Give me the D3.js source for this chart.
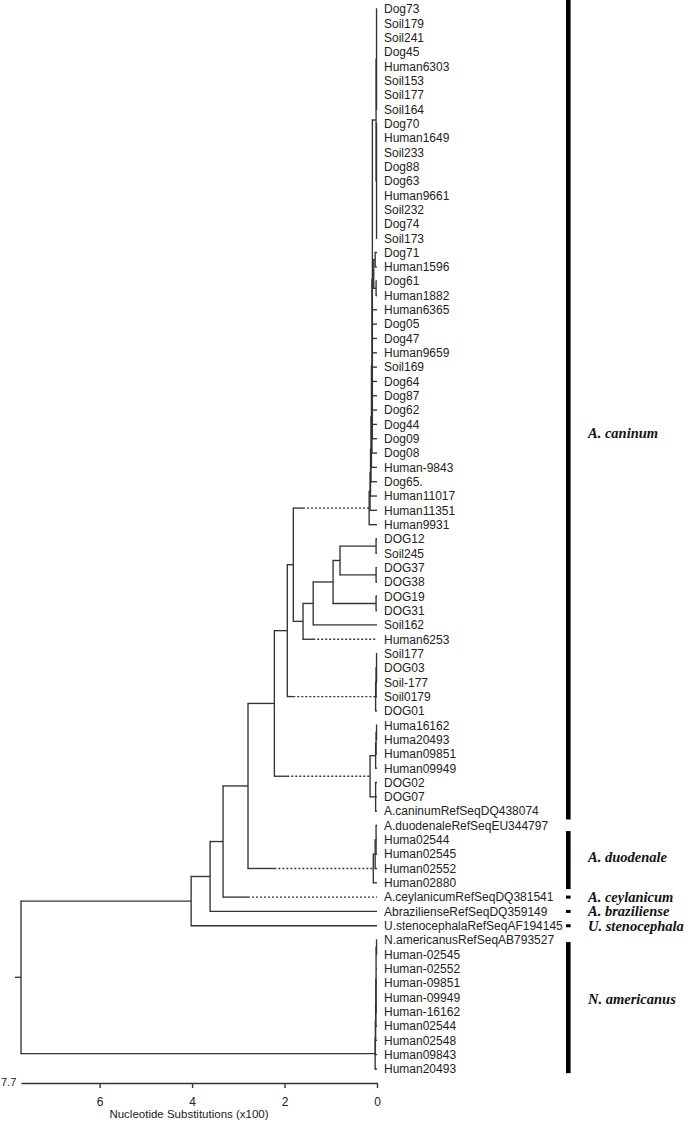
<!DOCTYPE html>
<html>
<head>
<meta charset="utf-8">
<script src="https://cdn.jsdelivr.net/npm/d3@7"></script>
<style>
  html, body { margin: 0; padding: 0; background: #fff; }
  svg { display: block; }
</style>
</head>
<body>
<svg id="chart" width="690" height="1122"></svg>
<script>
// ---------- DATA ----------
// leaf labels, top to bottom
const leaves = [
  "Dog73","Soil179","Soil241","Dog45","Human6303","Soil153","Soil177","Soil164",
  "Dog70","Human1649","Soil233","Dog88","Dog63","Human9661","Soil232","Dog74","Soil173",
  "Dog71","Human1596","Dog61","Human1882","Human6365","Dog05","Dog47","Human9659","Soil169",
  "Dog64","Dog87","Dog62","Dog44","Dog09","Dog08","Human-9843","Dog65.","Human11017",
  "Human11351","Human9931","DOG12","Soil245","DOG37","DOG38","DOG19","DOG31","Soil162",
  "Human6253","Soil177","DOG03","Soil-177","Soil0179","DOG01","Huma16162","Huma20493",
  "Human09851","Human09949","DOG02","DOG07","A.caninumRefSeqDQ438074",
  "A.duodenaleRefSeqEU344797","Huma02544","Human02545","Human02552","Human02880",
  "A.ceylanicumRefSeqDQ381541","AbrazilienseRefSeqDQ359149","U.stenocephalaRefSeqAF194145",
  "N.americanusRefSeqAB793527","Human-02545","Human-02552","Human-09851","Human-09949",
  "Human-16162","Human02544","Human02548","Human09843","Human20493"
];

// internal nodes: [id, height (x100 substitutions), children (leaf index or node id)]
const nodes = [
  ["A1", 0.010, [0,1,2,3,4,5,6,7]],
  ["A2", 0.010, [8,9,10,11,12,13,14,15,16]],
  ["A12", 0.020, ["A1","A2"]],
  ["B1a", 0.040, [17,18]],
  ["B1b", 0.020, [19,20]],
  ["B1", 0.070, ["B1a","B1b"]],
  ["K6", 0.100, ["A12","B1",21,22,23,24,25,26,27,28,29,30]],
  ["K5", 0.110, ["K6",31]],
  ["K4", 0.120, ["K5",32]],
  ["K3", 0.130, ["K4",33]],
  ["K2", 0.140, ["K3",34]],
  ["K1", 0.150, ["K2",35]],
  ["K",  0.170, ["K1",36]],
  ["P1", 0.020, [37,38]],
  ["P2", 0.020, [39,40]],
  ["P3", 0.020, [41,42]],
  ["J1", 0.80, ["P1","P2"]],
  ["J",  0.95, ["J1","P3"]],
  ["I",  1.38, ["J",43]],
  ["H",  1.60, ["I",44]],
  ["G",  1.81, ["K","H"]],
  ["S2", 0.010, [45,46,47]],
  ["S1", 0.020, ["S2",48]],
  ["S",  0.030, ["S1",49]],
  ["F",  1.94, ["G","S"]],
  ["Q1a", 0.010, [50,51]],
  ["Q1b", 0.020, ["Q1a",52]],
  ["Q1", 0.030, ["Q1b",53]],
  ["Q2", 0.030, [54,55,56]],
  ["HG", 0.150, ["Q1","Q2"]],
  ["E",  2.22, ["F","HG"]],
  ["DU2", 0.020, [57,58,59]],
  ["DU1", 0.040, ["DU2",60]],
  ["DU", 0.080, ["DU1",61]],
  ["D",  2.79, ["E","DU"]],
  ["C",  3.33, ["D",62]],
  ["B",  3.61, ["C",63]],
  ["Aa", 4.02, ["B",64]],
  ["NP", 0.010, [65,66]],
  ["NAz", 0.020, ["NP",67,68,69,70]],
  ["NAy", 0.025, ["NAz",71]],
  ["NAx", 0.030, ["NAy",72]],
  ["NA1", 0.035, ["NAx",73]],
  ["NA", 0.040, ["NA1",74]],
  ["root", 7.7, ["Aa","NA"]]
];

// branches drawn dotted (beyond the sibling's depth)
const dottedBranches = ["K", 44, "S", "HG", "DU", 62];

// axis
const axisTicks = [6, 4, 2, 0];
const axisMax = 7.7;
const axisTitle = "Nucleotide Substitutions (x100)";

// species groups: [label, first row, last row, label row] (1-based row units)
const groups = [
  ["A. caninum",      0.37, 57.58, 30.6],
  ["A. duodenale",    58.39, 62.44, 60.2],
  ["A. ceylanicum",   63, 63, 63],
  ["A. braziliense",  64, 64, 64],
  ["U. stenocephala", 65, 65, 65],
  ["N. americanus",   66.14, 75.29, 70.1]
];

// ---------- LAYOUT ----------
const svg = d3.select("#chart");
const x = d3.scaleLinear().domain([axisMax, 0]).range([21, 377]);
const y = d3.scaleLinear().domain([1, leaves.length]).range([9, 1069]);

const nodeMap = new Map(nodes.map(n => [n[0], n]));
function build(ref) {
  if (typeof ref === "number") return { id: ref, leaf: true, h: 0, name: leaves[ref], row: ref + 1 };
  const n = nodeMap.get(ref);
  return { id: ref, leaf: false, h: n[1], children: n[2].map(build) };
}
const root = d3.hierarchy(build("root"));
root.eachAfter(d => {
  if (d.data.leaf) d.py = y(d.data.row);
  else d.py = (d.children[0].py + d.children[d.children.length - 1].py) / 2;
  d.px = x(d.data.h);
});

const g = svg.append("g");
const lineColor = "#333";
const sw = 1.35;

root.each(d => {
  if (!d.children) return;
  const first = d.children[0], last = d.children[d.children.length - 1];
  g.append("line").attr("x1", d.px).attr("x2", d.px)
    .attr("y1", first.py).attr("y2", last.py)
    .attr("stroke", lineColor).attr("stroke-width", sw).attr("stroke-linecap", "square");
  d.children.forEach(c => {
    const isDot = dottedBranches.includes(c.data.id);
    if (isDot) {
      const sib = d.children.filter(s => s !== c);
      const sx = d3.max(sib, s => s.px);
      g.append("line").attr("x1", d.px).attr("x2", sx).attr("y1", c.py).attr("y2", c.py)
        .attr("stroke", lineColor).attr("stroke-width", sw);
      g.append("line").attr("x1", sx).attr("x2", c.px).attr("y1", c.py).attr("y2", c.py)
        .attr("stroke", lineColor).attr("stroke-width", sw).attr("stroke-dasharray", "2,2");
    } else {
      g.append("line").attr("x1", d.px).attr("x2", c.px).attr("y1", c.py).attr("y2", c.py)
        .attr("stroke", lineColor).attr("stroke-width", sw);
    }
  });
});
// root stub
g.append("line").attr("x1", root.px - 6).attr("x2", root.px).attr("y1", root.py).attr("y2", root.py)
  .attr("stroke", lineColor).attr("stroke-width", sw);

// leaf labels
g.selectAll("text.leaf").data(root.leaves()).join("text")
  .attr("class", "leaf")
  .attr("x", 384).attr("y", d => d.py).attr("dy", "0.36em")
  .attr("font-family", "Liberation Sans, Arial, sans-serif").attr("font-size", 12)
  .attr("fill", "#222").text(d => d.data.name);

// species bars and labels
groups.forEach(([label, r0, r1, rl]) => {
  let top = y(r0), bot = y(r1);
  if (r0 === r1) { top = y(r0) - 1.5; bot = y(r0) + 1.5; }
  svg.append("rect").attr("x", 566).attr("width", 4.6)
    .attr("y", top).attr("height", bot - top).attr("fill", "#000");
  svg.append("text").attr("x", 588).attr("y", y(rl)).attr("dy", "0.33em")
    .attr("font-family", "Liberation Serif, Times New Roman, serif")
    .attr("font-style", "italic").attr("font-weight", "bold").attr("font-size", 14.5)
    .attr("fill", "#111").text(label);
});

// axis
const axisY = 1083;
const axis = d3.axisBottom(x).tickValues(axisTicks).tickSize(5).tickSizeOuter(0).tickPadding(9)
  .tickFormat(d3.format("d"));
const ag = svg.append("g").attr("transform", `translate(0,${axisY})`).call(axis);
ag.select(".domain").attr("stroke", lineColor).attr("stroke-width", 1.4);
ag.selectAll(".tick line").attr("stroke", lineColor).attr("stroke-width", 1.4);
ag.selectAll(".tick text").attr("font-family", "Liberation Sans, Arial, sans-serif")
  .attr("font-size", 12).attr("fill", "#222");
svg.append("text").attr("x", 1).attr("y", axisY).attr("dy", "0.3em").attr("text-anchor", "start")
  .attr("font-family", "Liberation Sans, Arial, sans-serif").attr("font-size", 11).attr("fill", "#222")
  .text(d3.format(".1f")(axisMax));
svg.append("text").attr("x", 189).attr("y", 1118).attr("text-anchor", "middle")
  .attr("font-family", "Liberation Sans, Arial, sans-serif").attr("font-size", 11.5).attr("fill", "#222")
  .text(axisTitle);
</script>
</body>
</html>
